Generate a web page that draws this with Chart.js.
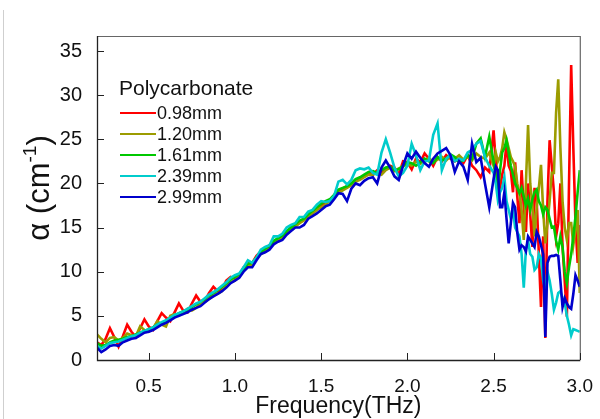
<!DOCTYPE html>
<html>
<head>
<meta charset="utf-8">
<script src="https://cdn.jsdelivr.net/npm/chart.js@4.4.1/dist/chart.umd.min.js"></script>
<style>
  html, body { margin: 0; padding: 0; background: #fff; }
  #wrap { width: 600px; height: 419px; }
</style>
</head>
<body>
<div id="wrap"><canvas id="chart" width="600" height="419"></canvas></div>
<script>
// absorption coefficient of polycarbonate
// (sampling is finer above 2.5 THz where the curves get noisy)
const freqTHz = [
  0.2, 0.225, 0.25, 0.275, 0.3, 0.325, 0.35, 0.375,
  0.4, 0.425, 0.45, 0.475, 0.5, 0.525, 0.55, 0.575,
  0.6, 0.625, 0.65, 0.675, 0.7, 0.725, 0.75, 0.775,
  0.8, 0.825, 0.85, 0.875, 0.9, 0.925, 0.95, 0.975,
  1.0, 1.025, 1.05, 1.075, 1.1, 1.125, 1.15, 1.175,
  1.2, 1.225, 1.25, 1.275, 1.3, 1.325, 1.35, 1.375,
  1.4, 1.425, 1.45, 1.475, 1.5, 1.525, 1.55, 1.575,
  1.6, 1.625, 1.65, 1.675, 1.7, 1.725, 1.75, 1.775,
  1.8, 1.825, 1.85, 1.875, 1.9, 1.925, 1.95, 1.975,
  2.0, 2.025, 2.05, 2.075, 2.1, 2.125, 2.15, 2.175,
  2.2, 2.225, 2.25, 2.275, 2.3, 2.325, 2.35, 2.375,
  2.4, 2.425, 2.45, 2.475,
  2.5, 2.5125, 2.525, 2.5375, 2.55, 2.5625, 2.575, 2.5875,
  2.6, 2.6125, 2.625, 2.6375, 2.65, 2.6625, 2.675, 2.6875,
  2.7, 2.7125, 2.725, 2.7375, 2.75, 2.7625, 2.775, 2.7875,
  2.8, 2.8125, 2.825, 2.8375, 2.85, 2.8625, 2.875, 2.8875,
  2.9, 2.9125, 2.925, 2.9375, 2.95, 2.9625, 2.975, 2.9875,
  3.0
];

const alpha098 = [
  2.0, 1.7, 2.4, 3.6, 2.6, 1.5, 2.7, 4.0,
  3.2, 2.6, 3.6, 4.6, 3.8, 3.4, 4.4, 5.3,
  4.8, 4.4, 5.4, 6.4, 5.6, 5.4, 6.4, 7.3,
  6.6, 6.7, 7.6, 8.3, 7.8, 8.0, 9.0, 9.4,
  9.2, 9.6, 10.5, 10.9, 11.0, 11.8, 12.3, 12.6,
  13.0, 13.4, 13.7, 14.0, 14.5, 15.0, 15.3, 15.6,
  16.0, 16.4, 16.8, 17.1, 17.5, 17.9, 18.1, 18.6,
  19.1, 19.4, 19.7, 20.0, 20.4, 20.6, 20.8, 21.2,
  21.0, 21.5, 21.3, 21.6, 22.0, 21.8, 21.0, 22.5,
  22.4, 21.6, 22.8, 22.4, 23.4, 22.8, 22.0, 23.0,
  22.5, 23.2, 22.8, 22.5, 22.8, 22.3, 23.2, 22.0,
  21.5, 20.7, 21.8, 21.3,
  26.0, 22.5, 20.7, 19.5, 21.0, 22.0, 24.6, 22.0,
  21.4, 19.0, 22.4, 18.5, 15.5, 21.5, 17.3, 14.5,
  20.0, 16.5, 12.8, 19.5, 18.0, 12.0, 6.0, 14.0,
  2.5, 18.0, 24.9, 22.0, 19.0, 14.0, 15.5, 20.0,
  12.8, 9.0, 4.9, 20.0, 33.4, 24.0, 15.5, 11.0,
  15.3
];

const alpha120 = [
  2.9, 2.4, 2.0, 2.5, 2.6, 2.2, 2.5, 3.0,
  2.8, 2.7, 3.8, 3.4, 3.2, 3.6, 4.4, 4.0,
  3.8, 5.0, 5.2, 5.0, 5.4, 5.8, 5.6, 5.9,
  6.4, 6.6, 6.9, 7.6, 7.5, 7.8, 8.6, 8.8,
  9.0, 9.5, 10.3, 10.6, 10.8, 11.5, 12.0, 12.3,
  12.8, 13.2, 13.5, 13.9, 14.4, 14.8, 15.1, 15.5,
  15.8, 16.3, 16.6, 17.0, 17.3, 17.6, 18.0, 18.4,
  18.9, 19.2, 19.5, 19.8, 20.2, 20.4, 20.7, 21.0,
  21.0, 21.2, 21.0, 21.5, 21.8, 21.4, 21.7, 21.9,
  22.2, 22.0, 22.5, 22.2, 22.6, 22.9, 22.4, 22.7,
  23.0, 22.6, 23.1, 22.8, 23.2, 22.7, 23.0, 22.6,
  23.4, 23.0, 22.8, 23.5,
  22.0, 23.5, 22.5, 23.0, 24.0, 25.8, 25.0, 24.0,
  23.0, 22.5, 21.9, 20.0, 18.9, 17.0, 13.6, 20.0,
  26.6, 20.0, 17.6, 14.0, 17.3, 19.5, 22.1, 17.0,
  13.2, 15.5, 18.0, 21.2, 21.2, 28.0, 31.8, 24.0,
  18.0, 15.0, 13.6, 15.5, 15.5, 13.0, 14.7, 17.0,
  7.6
];

const alpha161 = [
  1.9, 1.6, 1.7, 2.0, 2.2, 2.3, 2.4, 2.6,
  2.7, 2.9, 3.1, 3.3, 3.5, 3.7, 4.0, 4.2,
  4.4, 4.7, 5.0, 5.3, 5.5, 5.7, 6.0, 6.3,
  6.6, 6.9, 7.3, 7.6, 7.9, 8.3, 8.7, 9.1,
  9.4, 9.7, 10.3, 10.9, 11.0, 11.6, 12.2, 12.6,
  12.9, 13.5, 13.8, 14.1, 14.6, 15.0, 15.4, 15.8,
  16.0, 16.5, 16.9, 17.3, 17.7, 18.0, 18.2, 18.7,
  19.3, 19.5, 19.7, 20.0, 20.5, 20.7, 21.0, 21.3,
  21.4, 21.2, 21.5, 21.8, 21.9, 21.5, 21.6, 22.0,
  22.4, 22.3, 22.0, 22.4, 22.8, 22.5, 22.3, 23.0,
  22.6, 22.8, 23.3, 23.0, 22.4, 22.6, 23.2, 22.8,
  24.5, 25.1, 23.0, 25.3,
  22.5, 21.0, 19.0, 21.5, 23.5, 24.0, 24.9, 23.5,
  22.0, 21.0, 20.0, 19.5, 18.9, 19.5, 18.5, 17.5,
  18.3, 17.0, 18.2, 19.0, 19.3, 18.0, 17.5, 16.5,
  17.3, 17.0, 16.0, 15.0, 15.1, 13.5, 12.5, 14.0,
  12.8, 10.0, 8.7, 10.5, 12.0, 14.0, 16.2, 19.0,
  21.5
];

const alpha239 = [
  1.6, 1.3, 1.6, 1.9, 2.0, 2.1, 2.3, 2.5,
  2.7, 2.8, 3.1, 3.3, 3.5, 3.7, 4.0, 4.3,
  4.5, 4.8, 5.1, 5.3, 5.5, 5.8, 6.1, 6.4,
  6.6, 7.0, 7.4, 7.7, 8.0, 8.4, 8.8, 9.3,
  9.6, 9.8, 10.5, 11.3, 11.0, 11.6, 12.5, 12.8,
  13.0, 14.0, 14.0, 14.3, 15.0, 15.3, 15.5, 16.2,
  16.2, 16.8, 17.0, 17.6, 18.0, 17.9, 18.0, 18.6,
  20.2, 20.4, 19.9, 20.4, 21.5, 21.7, 21.6, 21.8,
  21.2, 21.0, 23.5, 25.0, 23.5, 21.8, 20.8, 21.2,
  22.0, 24.5, 23.2, 21.5, 22.5, 22.6, 25.5, 26.8,
  21.5, 22.8, 23.2, 22.5, 22.8, 22.6, 23.5, 23.8,
  24.5, 24.8, 23.0, 22.0,
  21.2, 20.0, 18.1, 19.0, 19.5, 20.7, 18.0, 17.0,
  16.0, 17.0, 15.0, 14.5, 14.0, 12.0, 8.2, 12.5,
  13.5, 12.0, 11.7, 10.2, 10.5, 12.0, 11.5, 9.0,
  7.9, 10.0, 9.0, 7.5, 5.7, 6.5, 7.6, 7.8,
  7.0, 6.5, 5.0, 4.0, 2.8, 3.5, 3.4, 3.3,
  3.2
];

const alpha299 = [
  1.4, 0.9, 1.2, 1.6, 1.7, 1.6, 2.0, 2.2,
  2.4, 2.5, 2.8, 3.1, 3.2, 3.4, 3.7, 4.0,
  4.2, 4.5, 4.8, 5.0, 5.2, 5.4, 5.7, 5.9,
  6.1, 6.5, 6.9, 7.2, 7.5, 7.8, 8.2, 8.7,
  9.0, 9.3, 10.0, 10.5, 10.5, 11.3, 12.0, 12.2,
  12.5, 13.1, 13.4, 13.6, 14.2, 14.6, 15.0, 15.0,
  15.3, 16.0, 16.3, 16.6, 17.0, 17.4, 17.6, 18.2,
  18.9, 18.8, 18.0, 19.4, 20.0, 19.8, 20.3, 20.6,
  20.7, 20.0, 21.8, 22.6, 21.8, 20.8, 20.4, 22.0,
  23.4, 22.8, 23.6, 22.9, 22.3, 21.9, 22.8, 23.4,
  23.7, 24.0, 23.2, 21.3, 22.5, 21.9, 20.4, 24.5,
  22.4, 22.9, 20.0, 17.3,
  20.5, 21.9, 21.5, 17.3, 17.3, 19.0, 16.0, 13.2,
  15.5, 17.8, 17.3, 14.4, 12.5, 13.0, 12.8, 12.3,
  14.0, 13.6, 13.2, 12.8, 14.5, 14.0, 13.0, 12.0,
  2.6, 11.0, 11.7, 11.8, 11.8, 11.9, 11.8, 9.0,
  6.0, 7.0, 6.4, 6.0, 5.8, 7.5, 9.6, 9.0,
  8.3
];

const seriesLabels = ['0.98mm', '1.20mm', '1.61mm', '2.39mm', '2.99mm'];
const seriesColors = ['#ff0000', '#9c9c00', '#00c800', '#00cccc', '#0000cc'];
const seriesValues = [alpha098, alpha120, alpha161, alpha239, alpha299];
const legendTitle = 'Polycarbonate';

const xTickValues = [0.5, 1.0, 1.5, 2.0, 2.5, 3.0];
const yTickValues = [0, 5, 10, 15, 20, 25, 30, 35];

const FONT = "Arial, 'Liberation Sans', sans-serif";

seriesValues.forEach((s, i) => {
  if (s.length !== freqTHz.length) console.warn('length mismatch', seriesLabels[i], s.length, freqTHz.length);
});

// frame, inward ticks, titles and legend drawn over the plot
const decorPlugin = {
  id: 'decor',
  afterDraw(chart) {
    const ctx = chart.ctx;
    const a = chart.chartArea;
    const xs = chart.scales.x, ys = chart.scales.y;
    ctx.save();

    // faint page edge at the left
    ctx.strokeStyle = '#cfcfcf';
    ctx.lineWidth = 1;
    ctx.beginPath();
    ctx.moveTo(3.5, 10); ctx.lineTo(3.5, 419);
    ctx.stroke();

    // top / right frame
    ctx.strokeStyle = '#666';
    ctx.lineWidth = 1.2;
    ctx.beginPath();
    ctx.moveTo(a.left, a.top + 0.5); ctx.lineTo(a.right + 0.5, a.top + 0.5); ctx.lineTo(a.right + 0.5, a.bottom);
    ctx.stroke();

    // axes
    ctx.strokeStyle = '#222';
    ctx.lineWidth = 1.3;
    ctx.beginPath();
    ctx.moveTo(a.left + 0.5, a.top); ctx.lineTo(a.left + 0.5, a.bottom + 0.5); ctx.lineTo(a.right + 0.5, a.bottom + 0.5);
    ctx.stroke();

    // inward ticks
    ctx.lineWidth = 1;
    ctx.beginPath();
    xTickValues.forEach(v => {
      const px = Math.round(xs.getPixelForValue(v)) + 0.5;
      ctx.moveTo(px, a.bottom); ctx.lineTo(px, a.bottom - 7);
    });
    yTickValues.forEach(v => {
      const py = Math.round(ys.getPixelForValue(v)) + 0.5;
      ctx.moveTo(a.left, py); ctx.lineTo(a.left + 7, py);
    });
    ctx.stroke();

    ctx.fillStyle = '#111';

    // x title
    ctx.font = '23px ' + FONT;
    ctx.textAlign = 'center';
    ctx.textBaseline = 'alphabetic';
    ctx.fillText('Frequency(THz)', (a.left + a.right) / 2, 413);

    // y title with superscript
    const mainFont = '31px ' + FONT, supFont = '19px ' + FONT;
    ctx.font = mainFont;
    const w1 = ctx.measureText('\u03b1 (cm').width;
    const w3 = ctx.measureText(')').width;
    ctx.font = supFont;
    const w2 = ctx.measureText('-1').width;
    const total = w1 + w2 + w3;
    ctx.translate(49, 188 + total / 2);
    ctx.rotate(-Math.PI / 2);
    ctx.textAlign = 'left';
    ctx.font = mainFont;
    ctx.fillText('\u03b1 (cm', 0, 0);
    ctx.font = supFont;
    ctx.fillText('-1', w1, -13);
    ctx.font = mainFont;
    ctx.fillText(')', w1 + w2, 0);
    ctx.setTransform(1, 0, 0, 1, 0, 0);

    // legend
    ctx.textAlign = 'left';
    ctx.textBaseline = 'middle';
    ctx.font = '21px ' + FONT;
    ctx.fillText(legendTitle, 119, 89);
    ctx.font = '18px ' + FONT;
    chart.data.datasets.forEach((ds, i) => {
      const ly = 113 + i * 21;
      ctx.strokeStyle = ds.borderColor;
      ctx.lineWidth = 2;
      ctx.beginPath();
      ctx.moveTo(120, ly); ctx.lineTo(156, ly);
      ctx.stroke();
      ctx.fillStyle = '#111';
      ctx.fillText(ds.label, 157, ly + 1);
    });

    ctx.restore();
  }
};

const datasets = seriesLabels.map((label, i) => ({
  label: label,
  data: freqTHz.map((f, k) => ({ x: f, y: seriesValues[i][k] })),
  borderColor: seriesColors[i],
  backgroundColor: seriesColors[i],
  borderWidth: 2.6,
  pointRadius: 0,
  tension: 0,
  fill: false,
  order: seriesLabels.length - i   // thickest sample drawn on top
}));

new Chart(document.getElementById('chart'), {
  type: 'line',
  data: { datasets: datasets },
  options: {
    responsive: false,
    animation: false,
    events: [],
    layout: { padding: { top: 36, right: 17, left: 0, bottom: 0 } },
    plugins: { legend: { display: false }, tooltip: { enabled: false }, title: { display: false } },
    scales: {
      x: {
        type: 'linear',
        min: 0.2,
        max: 3.0,
        grid: { display: false },
        border: { display: false },
        ticks: {
          font: { size: 19, family: FONT },
          color: '#111',
          padding: 7,
          maxRotation: 0,
          callback: v => Number(v).toFixed(1)
        },
        afterBuildTicks: s => { s.ticks = xTickValues.map(v => ({ value: v })); },
        afterFit: s => { s.height = 59; }
      },
      y: {
        min: 0,
        max: 36.7,
        grid: { display: false },
        border: { display: false },
        ticks: {
          font: { size: 20, family: FONT },
          color: '#111',
          padding: 7
        },
        afterBuildTicks: s => { s.ticks = yTickValues.map(v => ({ value: v })); },
        afterFit: s => { s.width = 97; }
      }
    }
  },
  plugins: [decorPlugin]
});
</script>
</body>
</html>
